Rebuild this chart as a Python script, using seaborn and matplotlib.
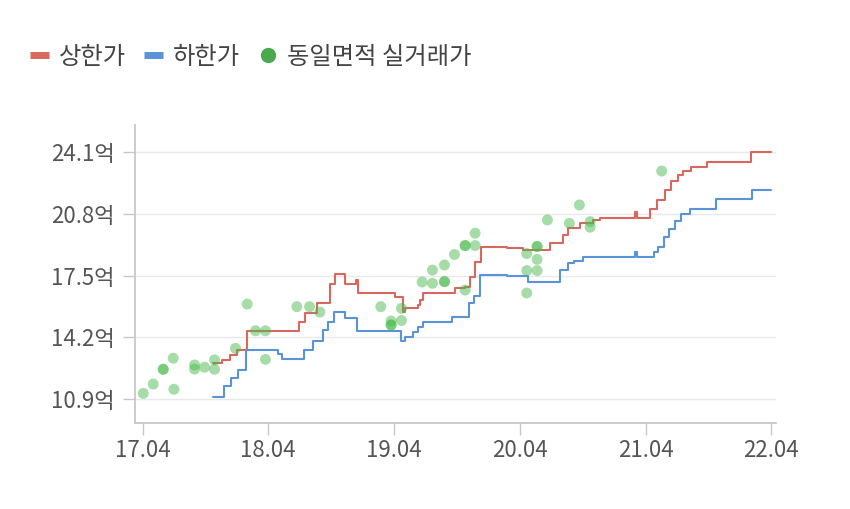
import matplotlib
matplotlib.use("Agg")
import matplotlib.pyplot as plt
import matplotlib.dates as mdates
from matplotlib.lines import Line2D
import seaborn as sns
import pandas as pd

# ---- data (values in 억) ----
upper_dates = ["2017-10-23", "2017-11-18", "2017-12-12", "2018-01-01", "2018-01-30",
               "2018-06-30", "2018-07-17", "2018-08-22", "2018-09-28", "2018-10-13",
               "2018-11-11", "2018-12-13", "2018-12-19", "2019-04-05", "2019-04-28",
               "2019-05-04", "2019-06-11", "2019-06-17", "2019-06-26", "2019-09-26",
               "2019-10-25", "2019-11-09", "2019-11-23", "2019-12-11", "2020-02-24",
               "2020-04-11", "2020-06-28", "2020-08-05", "2020-08-19", "2020-09-23",
               "2020-10-31", "2020-11-20", "2021-03-02", "2021-03-08", "2021-04-14",
               "2021-05-05", "2021-05-28", "2021-06-14", "2021-07-05", "2021-07-20",
               "2021-08-12", "2021-09-27", "2022-01-31", "2022-04-01"]
upper_values = [12.84, 12.99, 13.25, 13.52, 14.54,
                15.04, 15.52, 16.04, 17.05, 17.59,
                17.05, 17.27, 16.55, 16.36, 15.57,
                15.75, 15.93, 16.20, 16.59, 16.82,
                16.91, 17.44, 18.23, 19.05, 18.96,
                18.87, 19.25, 19.67, 20.03, 20.34,
                20.48, 20.58, 20.92, 20.58, 21.08,
                21.57, 22.08, 22.56, 22.86, 23.10,
                23.29, 23.60, 24.10, 24.10]

lower_dates = ["2017-10-23", "2017-11-24", "2017-12-15", "2018-01-04", "2018-01-27",
               "2018-04-30", "2018-05-12", "2018-07-14", "2018-08-09", "2018-09-07",
               "2018-09-22", "2018-10-10", "2018-11-11", "2018-12-16", "2019-04-23",
               "2019-05-04", "2019-05-27", "2019-06-11", "2019-06-26", "2019-09-18",
               "2019-11-06", "2019-11-20", "2019-12-08", "2020-02-24", "2020-04-25",
               "2020-07-28", "2020-08-19", "2020-09-06", "2020-10-02", "2021-03-02",
               "2021-03-08", "2021-04-26", "2021-05-08", "2021-05-25", "2021-06-09",
               "2021-06-26", "2021-07-14", "2021-08-09", "2021-10-23", "2022-02-03",
               "2022-04-01"]
lower_values = [11.02, 11.60, 12.02, 12.45, 13.52,
                13.31, 13.04, 13.52, 14.03, 14.59,
                15.04, 15.57, 15.23, 14.54, 14.02,
                14.23, 14.50, 14.77, 15.04, 15.31,
                16.04, 16.41, 17.55, 17.48, 17.18,
                17.80, 18.18, 18.28, 18.51, 18.78,
                18.51, 18.78, 19.05, 19.57, 20.00,
                20.42, 20.82, 21.08, 21.58, 22.08,
                22.08]

trade_dates = ["2017-04-03", "2017-05-02", "2017-05-31", "2017-05-31", "2017-06-29",
               "2017-07-01", "2017-08-30", "2017-08-30", "2017-09-28", "2017-10-27",
               "2017-10-27", "2017-12-27", "2018-01-30", "2018-02-23", "2018-03-24",
               "2018-03-24", "2018-06-23", "2018-07-30", "2018-08-29", "2019-02-22",
               "2019-03-24", "2019-03-24", "2019-03-24", "2019-04-23", "2019-04-23",
               "2019-06-22", "2019-07-22", "2019-07-22", "2019-08-26", "2019-08-26",
               "2019-08-26", "2019-09-24", "2019-10-25", "2019-10-25", "2019-10-25",
               "2019-11-23", "2019-11-23", "2020-04-21", "2020-04-21", "2020-04-21",
               "2020-05-21", "2020-05-21", "2020-05-21", "2020-05-21", "2020-06-20",
               "2020-08-23", "2020-09-21", "2020-10-22", "2020-10-22", "2021-05-18"]
trade_values = [11.20, 11.70, 12.49, 12.49, 13.08,
                11.42, 12.72, 12.50, 12.60, 12.99,
                12.49, 13.61, 15.98, 14.55, 14.55,
                13.02, 15.84, 15.84, 15.55, 15.84,
                15.07, 14.86, 14.86, 15.75, 15.10,
                17.16, 17.80, 17.09, 18.07, 17.18,
                17.18, 18.63, 19.11, 19.11, 16.73,
                19.77, 19.11, 18.68, 17.77, 16.57,
                19.06, 19.06, 18.37, 17.77, 20.48,
                20.30, 21.28, 20.39, 20.09, 23.10]

y_ticks = [10.9, 14.2, 17.5, 20.8, 24.1]
x_ticks = ["2017-04-01", "2018-04-01", "2019-04-01", "2020-04-01", "2021-04-01", "2022-04-01"]
legend_labels = ["상한가", "하한가", "동일면적 실거래가"]

RED = "#d8675e"
BLUE = "#5a93d8"
GREEN = "#4aa84e"
GREEN_PT = "#4cbb50"

upper = pd.DataFrame({"date": pd.to_datetime(upper_dates), "value": upper_values})
lower = pd.DataFrame({"date": pd.to_datetime(lower_dates), "value": lower_values})
trades = pd.DataFrame({"date": pd.to_datetime(trade_dates), "value": trade_values})

sns.set_theme(style="white")
plt.rcParams["font.family"] = ["Noto Sans CJK KR", "DejaVu Sans"]

fig = plt.figure(figsize=(8.5, 5.09), dpi=100)
ax = fig.add_axes([135 / 850, 1 - 423 / 509, 641 / 850, 298 / 509])

ax.grid(axis="y", color="#e9e9e9", linewidth=1.0)
ax.set_axisbelow(True)

sns.lineplot(data=upper, x="date", y="value", ax=ax, color=RED, linewidth=1.5,
             drawstyle="steps-post", estimator=None, zorder=3)
sns.lineplot(data=lower, x="date", y="value", ax=ax, color=BLUE, linewidth=1.5,
             drawstyle="steps-post", estimator=None, zorder=3)
sns.scatterplot(data=trades, x="date", y="value", ax=ax, color=GREEN_PT, alpha=0.5,
                s=62, edgecolor="none", linewidth=0, zorder=4)

ax.set_xlim(pd.Timestamp("2017-03-10"), pd.Timestamp("2022-04-15"))
ax.set_ylim(9.616, 25.56)
ax.set_yticks(y_ticks)
ax.set_yticklabels([f"{v}억" for v in y_ticks])
ax.set_xticks(pd.to_datetime(x_ticks))
ax.xaxis.set_major_formatter(mdates.DateFormatter("%y.%m"))
ax.set_xlabel("")
ax.set_ylabel("")

for side in ["top", "right"]:
    ax.spines[side].set_visible(False)
for side in ["left", "bottom"]:
    ax.spines[side].set_color("#c8c8c8")
    ax.spines[side].set_linewidth(1.3)

ax.tick_params(axis="y", which="major", length=8.5, width=1, color="#c8c8c8",
               labelsize=16, labelcolor="#555555", pad=6, left=True)
ax.tick_params(axis="x", which="major", length=8.5, width=1, color="#c8c8c8",
               labelsize=16, labelcolor="#555555", pad=3, bottom=True)

handles = [
    Line2D([], [], color=RED, linewidth=5, solid_capstyle="butt"),
    Line2D([], [], color=BLUE, linewidth=5, solid_capstyle="butt"),
    Line2D([], [], color=GREEN, linestyle="none", marker="o", markersize=10),
]
fig.legend(handles, legend_labels, loc="center left", bbox_to_anchor=(30 / 850, 1 - 57 / 509),
           ncol=3, frameon=False, fontsize=17.5, handlelength=0.78, handletextpad=0.4,
           columnspacing=0.75, borderpad=0, borderaxespad=0, labelcolor="#444444")

fig.savefig("out.png", dpi=100)
